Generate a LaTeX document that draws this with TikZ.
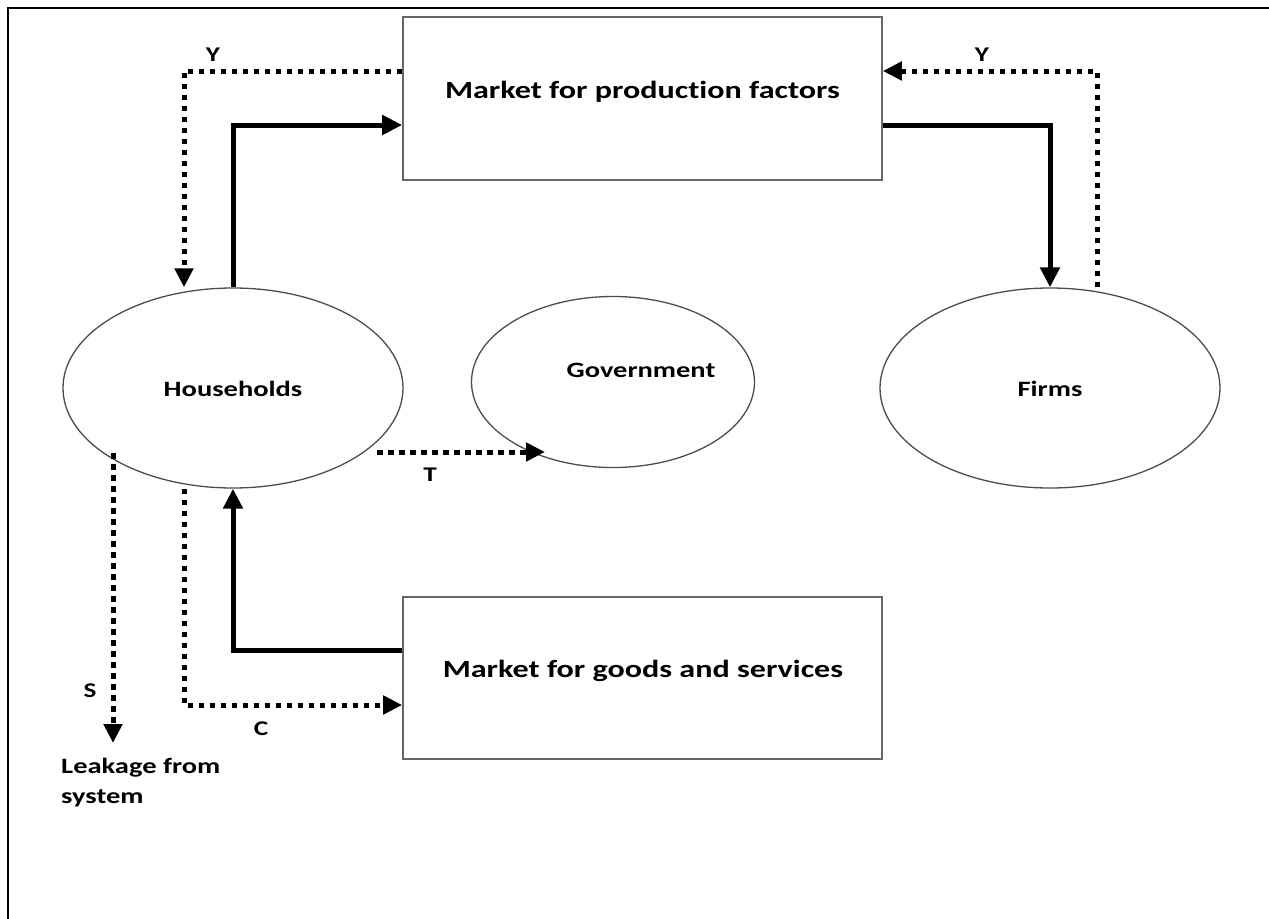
\documentclass[tikz,border=0pt]{standalone}
\usepackage{fontspec}
\setmainfont{Carlito}
\newfontfamily\wfont{Carlito}[FakeStretch=1.3, Ligatures=NoCommon]
\usetikzlibrary{shapes.geometric,arrows.meta}
\tikzset{
  x=1bp, y=-1bp,
  oval/.style={ellipse, draw=black!70, line width=1.3bp, inner sep=0pt},
  mbox/.style={rectangle, draw=black!60, line width=1.6bp, inner sep=0pt},
  bigtext/.style={font=\wfont\bfseries\fontsize{24.8}{28}\selectfont, inner sep=0pt},
  midtext/.style={font=\wfont\bfseries\fontsize{22}{30}\selectfont, inner sep=0pt},
  lbl/.style={font=\wfont\bfseries\fontsize{21}{24}\selectfont, inner sep=0pt},
  solidflow/.style={line width=5bp, -{Triangle[length=20bp,width=19bp]}},
  dotflow/.style={line width=5bp, dash pattern=on 5.5bp off 5.5bp, -{Triangle[length=19bp,width=18bp]}},
}
\begin{document}
\begin{tikzpicture}
\useasboundingbox (0,0) rectangle (1269,919);
% outer frame (only top and left edges visible)
\draw[line width=2.6bp] (8,930) -- (8,8) -- (1280,8);

% nodes
\node[mbox, minimum width=479bp, minimum height=163bp] (topbox) at (642.5,98.5) {};
\node[bigtext] (toptext) at (642.5,92) {Market for production factors};
\node[mbox, minimum width=479bp, minimum height=162bp] (botbox) at (642.5,678) {};
\node[bigtext] (bottext) at (643,671) {Market for goods and services};

\node[oval, minimum width=340bp, minimum height=200bp] (hh) at (233,388) {};
\node[midtext] (hhtext) at (233,389) {Households};
\node[oval, minimum width=283bp, minimum height=171bp] (gov) at (613,382) {};
\node[midtext] (govtext) at (641,370) {Government};
\node[oval, minimum width=340bp, minimum height=200bp] (firms) at (1050,388) {};
\node[midtext] (firmstext) at (1050,389) {Firms};

\node[midtext, anchor=north west, align=left] (leak) at (61,758) {Leakage from\\system};

% free ends
\coordinate (sstart) at (113,453);
\coordinate (send) at (113,743);
\coordinate (tstart) at (377,452);
\coordinate (tend) at (545,452);

% solid flows
\draw[solidflow] (hh.north) |- (topbox.west |- 0,125);
\draw[solidflow] (topbox.east |- 0,125) -| (firms.north);
\draw[solidflow] (botbox.west |- 0,650) -| (hh.south);

% dotted flows
\draw[dotflow] (topbox.west |- 0,71) -| (hh.north -| 184,0);
\draw[dotflow] (firms.north -| 1097,0) |- (topbox.east |- 0,71);
\draw[dotflow] (hh.south -| 184,0) |- (botbox.west |- 0,705);
\draw[dotflow] (sstart) -- (send);
\draw[dotflow] (tstart) -- (tend);

% labels
\node[lbl] (ylabl) at (213,55) {Y};
\node[lbl] (ylabr) at (982,55) {Y};
\node[lbl] (tlab) at (430,475) {T};
\node[lbl] (clab) at (261,729) {C};
\node[lbl] (slab) at (90,691) {S};
\end{tikzpicture}
\end{document}
